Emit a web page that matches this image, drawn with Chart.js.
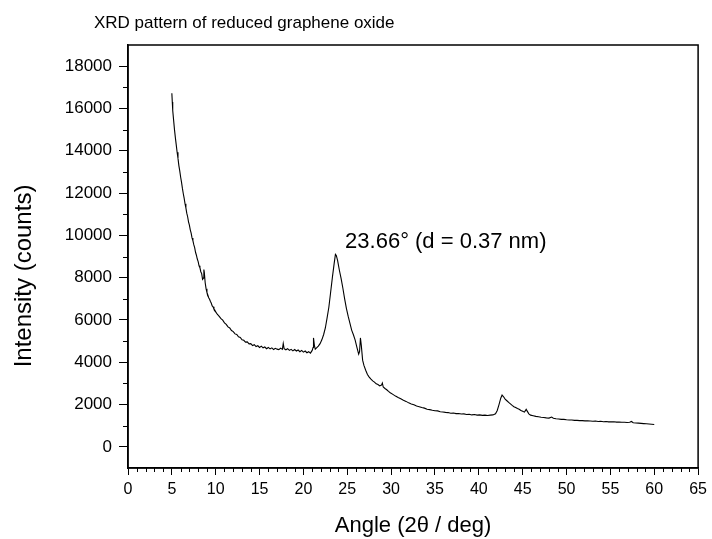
<!DOCTYPE html>
<html>
<head>
<meta charset="utf-8">
<script src="https://cdn.jsdelivr.net/npm/chart.js@4.4.1/dist/chart.umd.min.js"></script>
<style>
  html, body { margin: 0; padding: 0; background: #fff; }
</style>
</head>
<body>
<canvas id="xrd" width="712" height="539"></canvas>
<script>
const chartTitle = "XRD pattern of reduced graphene oxide";
const xTitle = "Angle (2\u03b8 / deg)";
const yTitle = "Intensity (counts)";
const peakLabel = "23.66\u00b0 (d = 0.37 nm)";
const peakLabelAt = { x: 24.75, y: 9380 };

const xTicks = [0, 5, 10, 15, 20, 25, 30, 35, 40, 45, 50, 55, 60, 65];
const yTicks = [0, 2000, 4000, 6000, 8000, 10000, 12000, 14000, 16000, 18000];

// 2-theta (deg)
const angle = [
  5.0, 5.05, 5.1, 5.2, 5.3, 5.4, 5.5, 5.6, 5.7, 5.8, 5.9, 6.0, 6.1, 6.2, 6.3, 6.4, 6.5, 6.6, 6.7, 6.8, 6.9,
  7.0, 7.1, 7.2, 7.3, 7.4, 7.5, 7.6, 7.7, 7.8, 7.9, 8.0, 8.1, 8.2, 8.3, 8.4, 8.5, 8.6, 8.65, 8.7, 8.8, 8.9,
  9.0, 9.1, 9.2, 9.3, 9.4, 9.5, 9.6, 9.7, 9.8, 9.9, 10.0,
  10.2, 10.4, 10.6, 10.8, 11.0, 11.2, 11.4, 11.6, 11.8, 12.0, 12.2, 12.4, 12.6, 12.8, 13.0, 13.2, 13.4, 13.6, 13.8,
  14.0, 14.2, 14.4, 14.6, 14.8, 15.0, 15.2, 15.4, 15.6, 15.8, 16.0, 16.2, 16.4, 16.6, 16.8, 17.0, 17.2, 17.4, 17.6,
  17.7, 17.8, 18.0, 18.2, 18.4, 18.6, 18.8, 19.0, 19.2, 19.4, 19.6, 19.8, 20.0, 20.2, 20.4, 20.6, 20.8,
  21.0, 21.1, 21.15, 21.25, 21.35, 21.5, 21.7, 21.9, 22.1, 22.3, 22.5, 22.7, 22.9, 23.1, 23.3, 23.5, 23.65, 23.75,
  23.9, 24.1, 24.3, 24.5, 24.7, 24.9, 25.1, 25.3, 25.5, 25.7, 25.9, 26.1, 26.3, 26.4, 26.5, 26.6, 26.75, 26.9,
  27.1, 27.3, 27.5, 27.7, 27.9, 28.1, 28.3, 28.5, 28.7, 28.9, 29.0, 29.1, 29.3, 29.5, 29.7, 29.9,
  30.2, 30.5, 30.8, 31.1, 31.4, 31.7, 32.0, 32.3, 32.6, 32.9, 33.2, 33.5, 33.8, 34.1, 34.4, 34.7,
  35.0, 35.3, 35.6, 35.9, 36.2, 36.5, 36.8, 37.1, 37.4, 37.7, 38.0, 38.3, 38.6, 38.9, 39.2, 39.5, 39.8,
  40.1, 40.4, 40.7, 41.0, 41.3, 41.6, 41.9, 42.1, 42.3, 42.5, 42.65, 42.8, 43.0, 43.2, 43.4, 43.6, 43.8,
  44.0, 44.2, 44.4, 44.6, 44.8, 45.0, 45.2, 45.4, 45.5, 45.7, 45.9, 46.2, 46.5, 46.8, 47.1, 47.4, 47.7,
  48.0, 48.3, 48.5, 48.8, 49.1, 49.4, 49.7, 50.0, 50.3, 50.6, 50.9, 51.2, 51.5, 51.8, 52.1, 52.4, 52.7,
  53.0, 53.3, 53.6, 53.9, 54.2, 54.5, 54.8, 55.1, 55.4, 55.7, 56.0, 56.3, 56.6, 56.9, 57.2, 57.4, 57.6,
  57.9, 58.2, 58.5, 58.8, 59.1, 59.4, 59.7, 60.0
];

// counts
const intensity = [
  16720, 16300, 15900, 15450, 15000, 14620, 14280, 13930, 13640, 13300, 13050, 12760, 12520, 12230, 11980, 11760, 11500, 11300, 11050, 10880, 10640,
  10480, 10260, 10100, 9880, 9750, 9560, 9420, 9200, 9060, 8880, 8760, 8560, 8470, 8280, 8190, 7920, 7980, 8380, 8250, 7760, 7480,
  7300, 7180, 7050, 6980, 6870, 6790, 6660, 6620, 6510, 6470, 6380,
  6260, 6170, 6060, 5990, 5860, 5790, 5670, 5620, 5500, 5450, 5340, 5310, 5200, 5170, 5060, 5040, 4950, 4960, 4870,
  4880, 4790, 4830, 4740, 4780, 4700, 4760, 4680, 4720, 4640, 4700, 4630, 4680, 4600, 4660, 4620, 4600, 4670, 4610,
  4890, 4640, 4590, 4640, 4560, 4610, 4540, 4600, 4530, 4580, 4500, 4560, 4480, 4530, 4450, 4500, 4430,
  4560, 4700, 5150, 4800, 4620, 4680, 4760, 4880, 5060, 5300, 5620, 6100, 6600, 7300, 8000, 8650, 9100, 9050,
  8800, 8350, 7950, 7500, 7000, 6550, 6180, 5850, 5520, 5300, 5050, 4700, 4380, 4500, 5150, 4800, 4100, 3850,
  3620, 3420, 3300, 3200, 3120, 3060, 2980, 2950, 2880, 2920, 3020, 2830, 2760, 2700, 2620, 2560,
  2480, 2400, 2330, 2270, 2200, 2150, 2080, 2030, 1990, 1930, 1900, 1860, 1830, 1780, 1760, 1730,
  1710, 1700, 1660, 1650, 1630, 1620, 1590, 1600, 1570, 1580, 1550, 1560, 1530, 1540, 1510, 1530, 1500,
  1510, 1490, 1500, 1480, 1500, 1510, 1560, 1720, 2000, 2300, 2450, 2380, 2260, 2180, 2100, 2030, 1960,
  1900, 1860, 1810, 1780, 1720, 1680, 1640, 1770, 1700, 1560, 1500, 1470, 1440, 1420, 1400, 1390, 1370,
  1360, 1410, 1350, 1330, 1320, 1300, 1300, 1280, 1270, 1270, 1250, 1250, 1240, 1240, 1230, 1230, 1220,
  1210, 1220, 1200, 1210, 1190, 1200, 1180, 1180, 1190, 1170, 1170, 1160, 1160, 1150, 1160, 1200, 1140,
  1130, 1120, 1110, 1100, 1090, 1080, 1070, 1060
];

const textFont = "Liberation Sans, Arial, Helvetica, sans-serif";

// box, minor ticks, title and peak note
const decorations = {
  id: "decorations",
  afterDraw(chart) {
    const { ctx, chartArea: a } = chart;
    const x = chart.scales.x;
    const y = chart.scales.y;
    ctx.save();
    ctx.strokeStyle = "#000";
    ctx.lineWidth = 1.5;
    ctx.strokeRect(a.left, a.top, a.right - a.left, a.bottom - a.top);

    ctx.lineWidth = 1;
    ctx.beginPath();
    for (let v = x.min + 1; v < x.max; v += 1) {
      if (v % 5 === 0) continue;
      const px = Math.round(x.getPixelForValue(v)) + 0.5;
      ctx.moveTo(px, a.bottom);
      ctx.lineTo(px, a.bottom + 4);
    }
    for (let v = 1000; v < y.max; v += 2000) {
      const py = Math.round(y.getPixelForValue(v)) + 0.5;
      ctx.moveTo(a.left, py);
      ctx.lineTo(a.left - 5, py);
    }
    ctx.stroke();

    ctx.fillStyle = "#000";
    ctx.textAlign = "left";
    ctx.textBaseline = "alphabetic";
    ctx.font = "17px " + textFont;
    ctx.fillText(chartTitle, 94, 28);

    ctx.font = "22px " + textFont;
    ctx.fillText(peakLabel, x.getPixelForValue(peakLabelAt.x), y.getPixelForValue(peakLabelAt.y));

    ctx.font = "24px " + textFont;
    ctx.translate(31, 276);
    ctx.rotate(-Math.PI / 2);
    ctx.textAlign = "center";
    ctx.fillText(yTitle, 0, 0);
    ctx.restore();
  },
};

const ctx = document.getElementById("xrd").getContext("2d");

new Chart(ctx, {
  type: "line",
  data: {
    datasets: [
      {
        label: "rGO",
        data: angle.map((a, i) => ({ x: a, y: intensity[i] })),
        borderColor: "#000",
        borderWidth: 1.1,
        pointRadius: 0,
        tension: 0,
        fill: false,
      },
    ],
  },
  options: {
    responsive: false,
    animation: false,
    devicePixelRatio: 1,
    layout: {
      padding: { top: 45, right: 11, bottom: 0, left: 0 },
    },
    plugins: {
      legend: { display: false },
      tooltip: { enabled: false },
    },
    scales: {
      x: {
        type: "linear",
        min: 0,
        max: 65,
        afterBuildTicks: (scale) => {
          scale.ticks = xTicks.map((v) => ({ value: v }));
        },
        afterFit: (scale) => {
          scale.height = 71;
        },
        ticks: {
          color: "#000",
          padding: 5,
          maxRotation: 0,
          font: { size: 16, family: textFont },
          callback: (value) => String(value),
        },
        grid: {
          drawOnChartArea: false,
          drawTicks: true,
          tickLength: 7,
          tickColor: "#000",
          tickWidth: 1,
        },
        border: { display: true, color: "#000", width: 1.5 },
        title: {
          display: true,
          text: xTitle,
          color: "#000",
          padding: { top: 0, bottom: 0 },
          font: { size: 22, family: textFont },
        },
      },
      y: {
        min: -1000,
        max: 19000,
        afterBuildTicks: (scale) => {
          scale.ticks = yTicks.map((v) => ({ value: v }));
        },
        afterFit: (scale) => {
          scale.width = 128;
        },
        ticks: {
          color: "#000",
          padding: 7,
          font: { size: 17, family: textFont },
          callback: (value) => String(value),
        },
        grid: {
          drawOnChartArea: false,
          drawTicks: true,
          tickLength: 9,
          tickColor: "#000",
          tickWidth: 1,
        },
        border: { display: true, color: "#000", width: 1.5 },
      },
    },
  },
  plugins: [decorations],
});
</script>
</body>
</html>
